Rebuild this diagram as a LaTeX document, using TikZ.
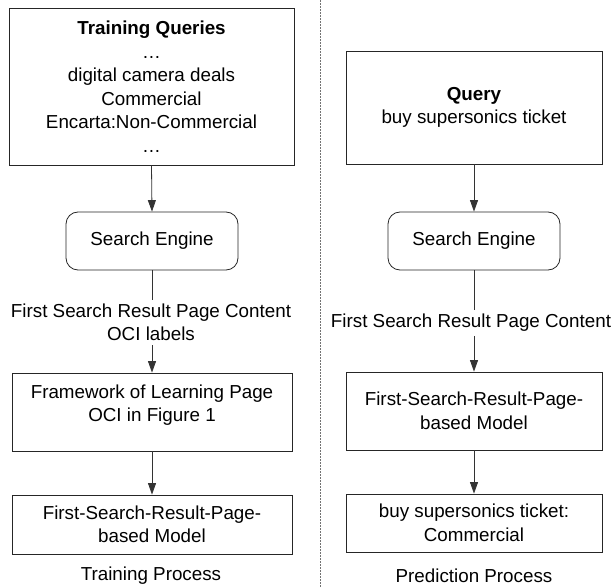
\documentclass[tikz,border=0pt]{standalone}
\usepackage{fontspec}
\setmainfont{Liberation Sans}
\usetikzlibrary{arrows.meta}
\begin{document}
\begin{tikzpicture}[x=1pt,y=-1pt,
  every node/.style={font=\fontsize{18.8}{23.5}\selectfont, align=center, inner sep=0pt},
  box/.style={draw=black!85, line width=0.8pt, inner sep=0pt},
  rbox/.style={box, rounded corners=12pt},
  gaplabel/.style={inner sep=4pt},
  link/.style={draw=black!80, line width=0.8pt},
  arr/.style={link, -{Triangle[length=11.5pt,width=8pt]}},
  divider/.style={draw=black!55, line width=0.9pt, dash pattern=on 2pt off 1pt}]
\useasboundingbox (0,0) rectangle (616,588);

% separator between the two processes
\coordinate (dtop) at (320,0);
\coordinate (dbot) at (320,588);
\draw[divider] (dtop) -- (dbot);

% training process (left column)
\node[box, minimum width=285pt, minimum height=157pt] (tq) at (151.5,86.5)
  {\textbf{Training Queries}\\…\\digital camera deals\\Commercial\\Encarta:Non-Commercial\\…};
\node[rbox, minimum width=172pt, minimum height=58pt] (se1) at (152,241) {Search Engine};
\node[gaplabel] (lbl1) at (151,322.5) {First Search Result Page Content\\OCI labels};
\node[box, minimum width=280pt, minimum height=78pt] (fw) at (152,412) {};
\node (fwt) at (152,405) {Framework of Learning Page\\OCI in Figure 1};
\node[box, minimum width=280pt, minimum height=59pt] (ml) at (152,524.5) {First-Search-Result-Page-\\based Model};
\node (tp) at (151,575.5) {Training Process};

\draw[arr] (tq.south) -- (se1.north);
\draw[link] (se1.south) -- (se1.south |- lbl1.north);
\draw[arr] (se1.south |- lbl1.south) -- (fw.north);
\draw[arr] (fw.south) -- (ml.north);

% prediction process (right column)
\node[box, minimum width=256pt, minimum height=113pt] (q) at (474,107.5)
  {\textbf{Query}\\buy supersonics ticket};
\node[rbox, minimum width=172pt, minimum height=58pt] (se2) at (474,241) {Search Engine};
\node[gaplabel] (lbl2) at (471,323) {First Search Result Page Content};
\node[box, minimum width=256pt, minimum height=78pt] (mr) at (474,411) {First-Search-Result-Page-\\based Model};
\node[box, minimum width=256pt, minimum height=58pt] (res) at (474,523) {buy supersonics ticket:\\Commercial};
\node (pp) at (474,576) {Prediction Process};

\draw[arr] (q.south) -- (se2.north);
\draw[link] (se2.south) -- (se2.south |- lbl2.north);
\draw[arr] (se2.south |- lbl2.south) -- (mr.north);
\draw[arr] (mr.south) -- (res.north);
\end{tikzpicture}
\end{document}
